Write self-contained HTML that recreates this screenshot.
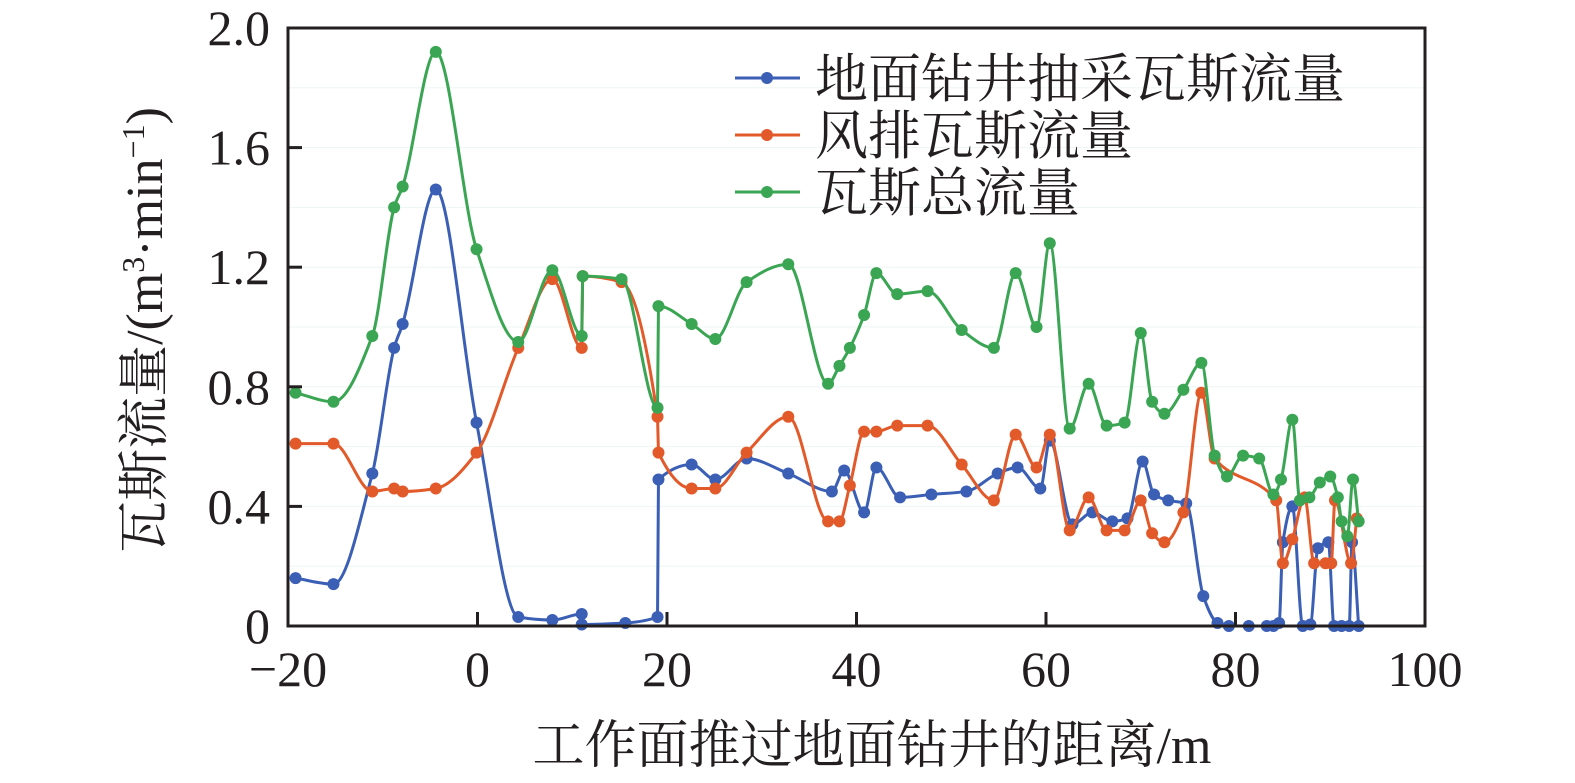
<!DOCTYPE html>
<html><head><meta charset="utf-8"><style>
body{margin:0;background:#fff;}
svg{display:block;font-family:"Liberation Serif","Noto Serif CJK SC",serif;}
</style></head><body>
<svg id="chart" width="1575" height="783" viewBox="0 0 1575 783" xmlns="http://www.w3.org/2000/svg">
<g id="grid"></g>
<g id="series"></g>
<rect x="288" y="28" width="1137" height="598" fill="none" stroke="#231f20" stroke-width="3"/>
<g id="axes"></g>
<text x="872" y="763" font-size="52" text-anchor="middle" fill="#231f20">工作面推过地面钻井的距离/m</text>
<text transform="translate(162,330) rotate(-90)" font-size="52" text-anchor="middle" fill="#231f20">瓦斯流量/(m<tspan font-size="32" dy="-18">3</tspan><tspan dy="18">·min</tspan><tspan font-size="32" dy="-18">−1</tspan><tspan dy="18">)</tspan></text>
<g id="legend"></g>
</svg>
<script>
const xTicks=[-20,0,20,40,60,80,100];
const yTicks=[0,0.4,0.8,1.2,1.6,2.0];
const yTickLabels=["0","0.4","0.8","1.2","1.6","2.0"];
const seriesNames=["地面钻井抽采瓦斯流量","风排瓦斯流量","瓦斯总流量"];
const blueX=[-19.2,-15.2,-11.1,-8.8,-7.9,-4.4,-0.1,4.3,7.9,11.0,11.0,15.6,19.0,19.1,22.6,25.1,28.4,32.8,37.4,38.7,40.8,42.1,44.6,47.9,51.6,54.9,57.0,59.4,60.4,62.8,64.9,67.0,68.6,70.2,71.4,72.9,74.8,76.6,78.1,79.3,81.4,83.3,84.0,84.6,85.0,86.0,87.1,87.9,88.7,89.8,90.4,91.2,92.0,92.3,93.0];
const blueY=[0.16,0.14,0.51,0.93,1.01,1.46,0.68,0.03,0.02,0.04,0.005,0.01,0.03,0.49,0.54,0.49,0.56,0.51,0.45,0.52,0.38,0.53,0.43,0.44,0.45,0.51,0.53,0.46,0.62,0.34,0.38,0.35,0.36,0.55,0.44,0.42,0.41,0.10,0.01,0,0,0,0,0.01,0.28,0.40,0,0.005,0.26,0.28,0,0,0,0.28,0];
const orangeX=[-19.2,-15.2,-11.1,-8.8,-7.9,-4.4,-0.1,4.3,7.9,11.0,11.1,15.2,19.0,19.1,22.6,25.1,28.4,32.8,37.0,38.2,39.3,40.8,42.1,44.3,47.5,51.1,54.5,56.8,59.0,60.4,62.5,64.5,66.4,68.3,70.0,71.2,72.5,74.5,76.4,77.8,84.3,85.0,86.0,87.3,88.3,89.5,90.1,90.5,92.2,92.8];
const orangeY=[0.61,0.61,0.45,0.46,0.45,0.46,0.58,0.93,1.16,0.93,1.17,1.15,0.70,0.58,0.46,0.46,0.58,0.70,0.35,0.35,0.47,0.65,0.65,0.67,0.67,0.54,0.42,0.64,0.53,0.64,0.32,0.43,0.32,0.32,0.42,0.31,0.28,0.38,0.78,0.56,0.42,0.21,0.29,0.43,0.21,0.21,0.21,0.42,0.21,0.36];
const greenX=[-19.2,-15.2,-11.1,-8.8,-7.9,-4.4,-0.1,4.3,7.9,11.0,11.1,15.2,19.0,19.1,22.6,25.1,28.4,32.8,37.0,38.2,39.3,40.8,42.1,44.3,47.5,51.1,54.5,56.8,59.0,60.4,62.5,64.5,66.4,68.3,70.0,71.2,72.5,74.5,76.4,77.8,79.1,80.8,82.5,84.0,84.8,86.0,86.8,87.8,88.9,90.0,90.8,91.2,91.8,92.4,93.0];
const greenY=[0.78,0.75,0.97,1.40,1.47,1.92,1.26,0.95,1.19,0.97,1.17,1.16,0.73,1.07,1.01,0.96,1.15,1.21,0.81,0.87,0.93,1.04,1.18,1.11,1.12,0.99,0.93,1.18,1.00,1.28,0.66,0.81,0.67,0.68,0.98,0.75,0.71,0.79,0.88,0.57,0.50,0.57,0.56,0.44,0.49,0.69,0.42,0.43,0.48,0.50,0.43,0.35,0.30,0.49,0.35];
const colors=["#3b5fb5","#e35a2a","#3aa553"];
const X0=288,X1=1425,Y0=626,Y1=28;
const sx=v=>X0+(v+20)/120*(X1-X0);
const sy=v=>Y0-v/2*(Y0-Y1);
const NS="http://www.w3.org/2000/svg";
function mk(tag,attrs,parent){const e=document.createElementNS(NS,tag);for(const k in attrs)e.setAttribute(k,attrs[k]);parent.appendChild(e);return e;}
const grid=document.getElementById('grid'),axes=document.getElementById('axes'),ser=document.getElementById('series'),leg=document.getElementById('legend');
for(let v=0.2;v<2;v+=0.2){const g=mk('line',{x1:X0,x2:X1,y1:sy(v),y2:sy(v),stroke:'#eef5f3','stroke-width':1},grid);

}
xTicks.forEach(v=>{const t=mk('line',{x1:sx(v),x2:sx(v),y1:Y0,y2:Y0-14,stroke:'#231f20','stroke-width':3},axes);


const l=mk('text',{x:sx(v),y:Y0+60,'font-size':50,'text-anchor':'middle',fill:'#231f20'},axes);l.textContent=v<0?'−'+(-v):String(v);

});
yTicks.forEach((v,i)=>{const t=mk('line',{x1:X0,x2:X0+14,y1:sy(v),y2:sy(v),stroke:'#231f20','stroke-width':3},axes);


const l=mk('text',{x:X0-18,y:sy(v)+17,'font-size':50,'text-anchor':'end',fill:'#231f20'},axes);l.textContent=yTickLabels[i];

});
function monoPath(xs,ys){const n=xs.length,px=xs.map(sx),py=ys.map(sy);const d=[],m=[];
for(let i=0;i<n-1;i++){const dx=px[i+1]-px[i];d.push(dx<=0.01?0:(py[i+1]-py[i])/dx);}
m[0]=d[0];m[n-1]=d[n-2];
for(let i=1;i<n-1;i++){m[i]=(d[i-1]*d[i]>0)?2/(1/d[i-1]+1/d[i]):0;}
let s='M'+px[0]+','+py[0];
for(let i=0;i<n-1;i++){const h=px[i+1]-px[i];if(h<1.5){s+=' L'+px[i+1]+','+py[i+1];continue;}
s+=' C'+(px[i]+h/3)+','+(py[i]+m[i]*h/3)+' '+(px[i+1]-h/3)+','+(py[i+1]-m[i+1]*h/3)+' '+px[i+1]+','+py[i+1];}
return s;}
const data=[[blueX,blueY,'drainage'],[orangeX,orangeY,'ventilation'],[greenX,greenY,'total']];
data.forEach(([xs,ys,nm],k)=>{const p=mk('path',{d:monoPath(xs,ys),fill:'none',stroke:colors[k],'stroke-width':3},ser);


xs.forEach((x,i)=>{const c=mk('circle',{cx:sx(x),cy:sy(ys[i]),r:6,fill:colors[k]},ser);

});});
seriesNames.forEach((s,k)=>{const y=78+k*57;
const l=mk('line',{x1:735,x2:800,y1:y,y2:y,stroke:colors[k],'stroke-width':3},leg);


const c=mk('circle',{cx:767,cy:y,r:6,fill:colors[k]},leg);


const t=mk('text',{x:815,y:y+19,'font-size':53,fill:'#231f20'},leg);t.textContent=s;

});
</script>
</body></html>
